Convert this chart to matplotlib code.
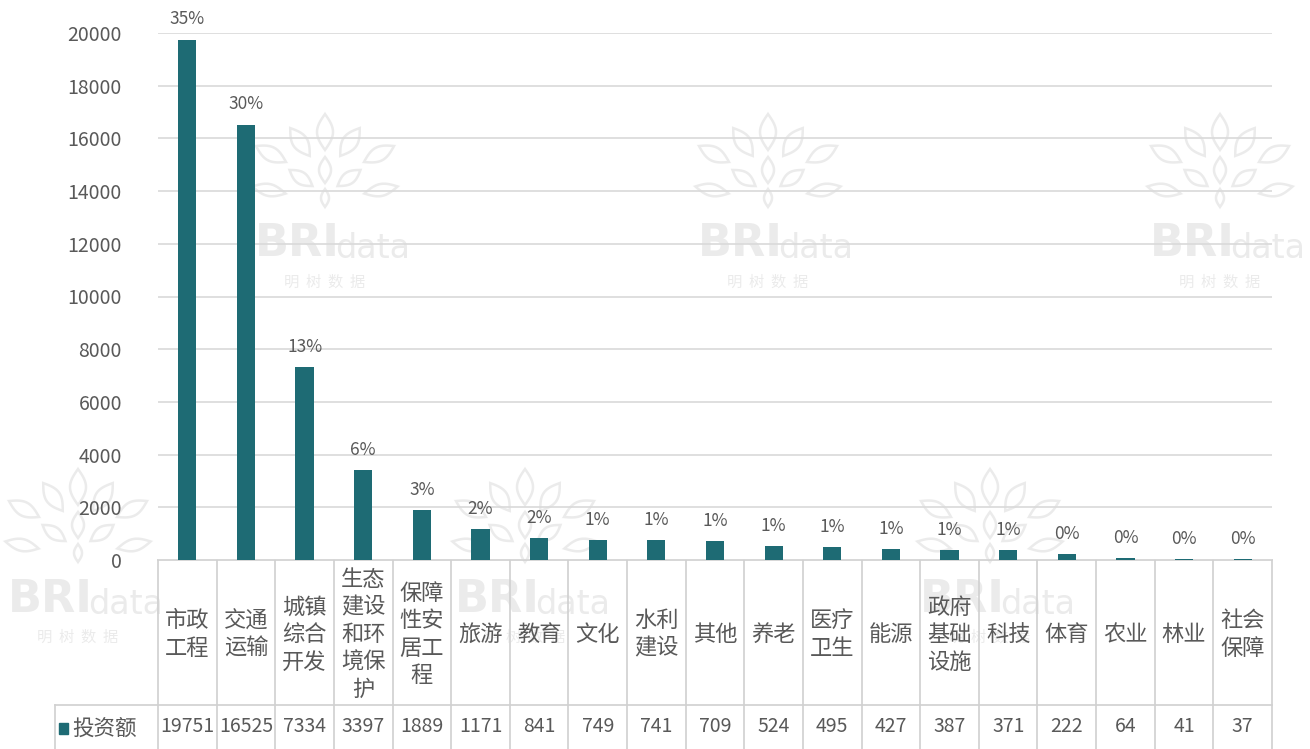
import numpy as np
import matplotlib.pyplot as plt
import matplotlib.transforms as mtransforms
from matplotlib.patches import Polygon, Rectangle

plt.rcParams['font.family'] = ['Noto Sans CJK SC', 'DejaVu Sans']

categories = ['市政工程', '交通运输', '城镇综合开发', '生态建设和环境保护', '保障性安居工程',
              '旅游', '教育', '文化', '水利建设', '其他', '养老', '医疗卫生', '能源',
              '政府基础设施', '科技', '体育', '农业', '林业', '社会保障']
invest = [19751, 16525, 7334, 3397, 1889, 1171, 841, 749, 741, 709, 524, 495, 427,
          387, 371, 222, 64, 41, 37]
series_name = '投资额'
yticks = list(range(0, 20001, 2000))

BAR = '#1e6b74'
TXT = '#595959'
GRID = '#d9d9d9'
WM = '#ebebeb'

W, H = 1310, 749
fig = plt.figure(figsize=(W / 100, H / 100), dpi=100)

# pixel-space layer for the data table and the watermarks
over = fig.add_axes([0, 0, 1, 1], zorder=0)
over.set_xlim(0, W)
over.set_ylim(H, 0)
over.axis('off')

ax = fig.add_axes([158 / W, 1 - 560 / H, (1272 - 158) / W, (560 - 33) / H], zorder=1)
ax.patch.set_alpha(0)

x = list(range(len(categories)))
ax.bar(x, invest, width=0.31, color=BAR, zorder=3)
ax.set_xlim(-0.5, len(categories) - 0.5)
ax.set_ylim(0, 20000)
ax.set_yticks(yticks)
ax.set_xticks([])
ax.tick_params(axis='y', length=0, pad=26, labelsize=14, labelcolor=TXT)
ax.grid(axis='y', color=GRID, lw=1.2, zorder=0)
for s in ax.spines.values():
    s.set_visible(False)

total = sum(invest)
for xi, v in zip(x, invest):
    ax.annotate(f'{v / total:.0%}', (xi, v), xytext=(0, 8), textcoords='offset points',
                ha='center', va='bottom', fontsize=12.5, color=TXT, annotation_clip=False)

# data table under the plot: x follows the bar axis, y in pixels
tr = mtransforms.blended_transform_factory(ax.transData, over.transData)
left_px = 55
x_left = -0.5 - (158 - left_px) / ((1272 - 158) / len(categories))
top, mid, bot = 560, 705, 749
LINE = '#d0d0d0'
over.plot([-0.5, len(categories) - 0.5], [top, top], color=LINE, lw=1.2, transform=tr)
over.plot([x_left, len(categories) - 0.5], [mid, mid], color=LINE, lw=1.2, transform=tr)
for b in range(len(categories) + 1):
    over.plot([b - 0.5, b - 0.5], [top, bot], color=LINE, lw=1.2, transform=tr)
over.plot([x_left, x_left], [mid, bot], color=LINE, lw=1.2, transform=tr)

for xi, name, v in zip(x, categories, invest):
    wrapped = '\n'.join(name[i:i + 2] for i in range(0, len(name), 2))
    over.text(xi, (top + mid) / 2 + 2, wrapped, transform=tr, ha='center', va='center',
              fontsize=16, color=TXT, linespacing=1.25)
    over.text(xi, (mid + 745) / 2 + 1, str(v), transform=tr, ha='center', va='center',
              fontsize=14, color=TXT)

over.add_patch(Rectangle((59, 723), 9, 11, color=BAR))
over.text(72, 729, series_name, ha='left', va='center', fontsize=15.5, color=TXT)

# watermark logos: pointed leaves fanned above the BRIdata mark
leaves = [(0, -40, 16, 36, 0), (-25, -30, 15, 34, 35), (25, -30, 15, 34, -35),
          (-54, -18, 14, 34, 62), (54, -18, 14, 34, -62), (0, -2, 12, 26, 0),
          (-24, 6, 12, 28, 55), (24, 6, 12, 28, -55), (-56, 18, 12, 34, 78),
          (56, 18, 12, 34, -78), (0, 26, 8, 18, 0)]
t = np.linspace(0, 1, 30)


def leaf(cx, cy, w, h, ang):
    ys = np.concatenate([-h / 2 + h * t, h / 2 - h * t])
    xs = np.concatenate([w / 2 * np.sin(np.pi * t), -w / 2 * np.sin(np.pi * t)])
    a = np.deg2rad(ang)
    px = cx + xs * np.cos(a) - ys * np.sin(a)
    py = cy + xs * np.sin(a) + ys * np.cos(a)
    return Polygon(np.column_stack([px, py]), closed=True, fill=False, ec=WM, lw=1.8, zorder=0)


def watermark(cx, cy):
    for dx, dy, w, h, ang in leaves:
        over.add_patch(leaf(cx + dx, cy + dy, w, h, -ang))
    over.text(cx - 70, cy + 72, 'BRI', fontsize=32, fontweight='bold', color=WM,
              ha='left', va='center', family='DejaVu Sans', zorder=0)
    over.text(cx + 10, cy + 77, 'data', fontsize=24, color=WM, ha='left', va='center',
              family='DejaVu Sans', zorder=0)
    over.text(cx, cy + 110, '明  树  数  据', fontsize=11, color=WM, ha='center',
              va='center', zorder=0)


for cx, cy in [(325, 172), (768, 172), (1220, 172), (78, 527), (525, 527), (990, 527)]:
    watermark(cx, cy)

fig.savefig('out.png', dpi=100, facecolor='white')
